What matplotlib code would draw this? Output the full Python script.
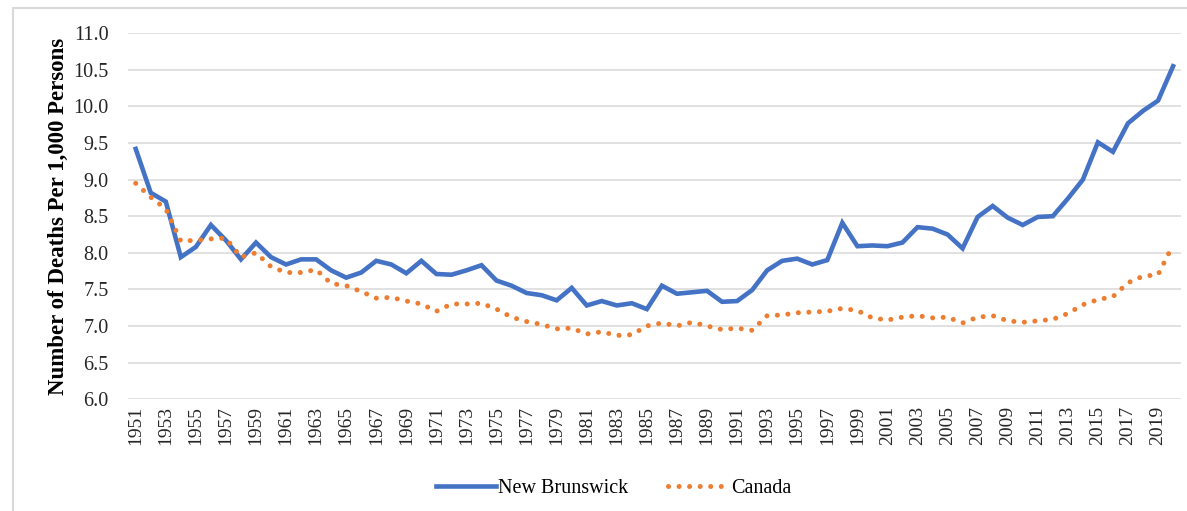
import matplotlib.pyplot as plt
import numpy as np
from matplotlib.patches import Rectangle

# Crude death rate, deaths per 1,000 persons
years = list(range(1951, 2021))
new_brunswick = [
    9.42, 8.82, 8.70, 7.94, 8.08, 8.38, 8.17, 7.91, 8.14, 7.94,
    7.84, 7.91, 7.91, 7.76, 7.66, 7.73, 7.89, 7.84, 7.72, 7.89,
    7.71, 7.70, 7.76, 7.83, 7.62, 7.55, 7.45, 7.42, 7.35, 7.52,
    7.28, 7.34, 7.28, 7.31, 7.23, 7.55, 7.44, 7.46, 7.48, 7.33,
    7.34, 7.49, 7.76, 7.89, 7.92, 7.84, 7.90, 8.41, 8.09, 8.10,
    8.09, 8.14, 8.35, 8.33, 8.25, 8.06, 8.49, 8.64, 8.48, 8.38,
    8.49, 8.50, 8.74, 9.00, 9.51, 9.38, 9.77, 9.94, 10.08, 10.55,
]
canada = [
    8.95, 8.76, 8.60, 8.16, 8.17, 8.19, 8.20, 7.94, 8.00, 7.81,
    7.73, 7.73, 7.77, 7.58, 7.55, 7.47, 7.38, 7.39, 7.34, 7.30,
    7.20, 7.30, 7.30, 7.31, 7.23, 7.12, 7.06, 7.02, 6.96, 6.97,
    6.89, 6.92, 6.87, 6.88, 7.00, 7.04, 7.00, 7.05, 7.00, 6.95,
    6.97, 6.94, 7.14, 7.15, 7.18, 7.19, 7.20, 7.24, 7.21, 7.11,
    7.08, 7.12, 7.14, 7.11, 7.12, 7.04, 7.12, 7.14, 7.07, 7.05,
    7.07, 7.09, 7.17, 7.29, 7.36, 7.40, 7.59, 7.68, 7.70, 8.11,
]
y_ticks = np.arange(6.0, 11.01, 0.5)

serif = ["Liberation Serif", "DejaVu Serif"]
blue = "#4472C4"
orange = "#ED7D31"
grid_color = "#D9D9D9"

fig = plt.figure(figsize=(11.87, 5.11), dpi=100)
ax = fig.add_axes([0.108, 0.219, 0.8866, 0.7158])

# outer chart border (Excel-style frame), runs off the right and bottom
left_edge = 13 / 1187
top_edge = 1 - 8 / 511
fig.patches.append(Rectangle((left_edge, -0.05), 1.2, top_edge + 0.05,
                             transform=fig.transFigure, fill=False,
                             edgecolor=grid_color, linewidth=1.5))

x = np.arange(len(years))
ax.plot(x, new_brunswick, color=blue, linewidth=3.3,
        solid_joinstyle="miter", label="New Brunswick", zorder=3)
ax.plot(x, canada, color=orange, linewidth=3.6,
        linestyle=(0, (0.01, 2.1)), dash_capstyle="round",
        label="Canada", zorder=3)

ax.set_xlim(-0.5, len(years) - 0.5)
ax.set_ylim(6.0, 11.0)
ax.set_yticks(y_ticks)
ax.set_yticklabels([f"{v:.1f}" for v in y_ticks], family=serif, fontsize=14.5)
ax.set_xticks(x[::2])
ax.set_xticklabels([str(y) for y in years[::2]], rotation=90,
                   family=serif, fontsize=14)

ax.grid(axis="y", color=grid_color, linewidth=1.1)
ax.set_axisbelow(True)
for side in ["top", "right", "left", "bottom"]:
    ax.spines[side].set_visible(False)
ax.tick_params(axis="both", length=0, colors="#262626")
ax.tick_params(axis="y", pad=14)
ax.tick_params(axis="x", pad=5)

ax.set_ylabel("Number of Deaths Per 1,000 Persons", family=serif,
              fontweight="bold", fontsize=16.5, labelpad=3)

leg = ax.legend(loc="center", bbox_to_anchor=(0.461, -0.245), ncol=2,
                frameon=False, prop={"family": serif, "size": 14.5},
                handlelength=3.0, handletextpad=0.1, columnspacing=2.0)

fig.savefig("out.png", dpi=100)
